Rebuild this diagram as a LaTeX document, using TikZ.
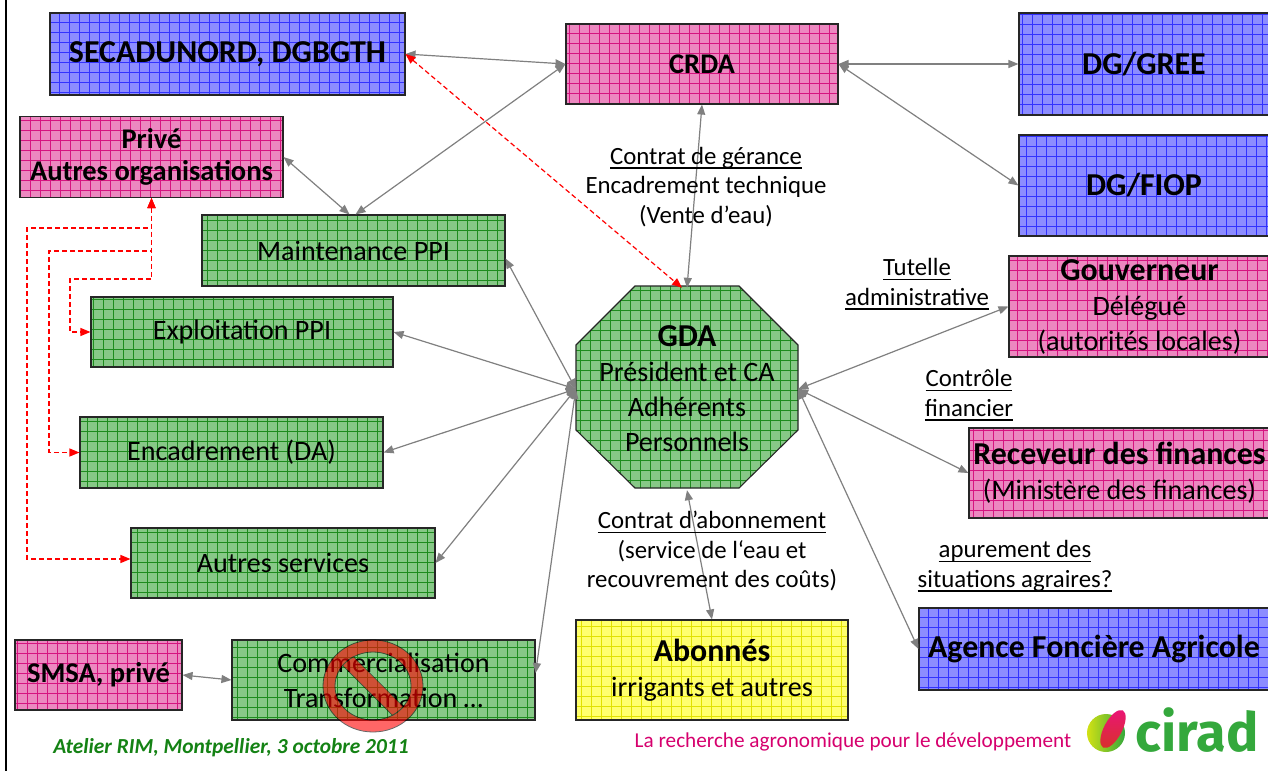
\documentclass[tikz,border=0pt]{standalone}
\usepackage{fontspec}
\setmainfont{Carlito}
\newfontfamily\ciradfont{Fira Sans}
\usetikzlibrary{arrows.meta}
\definecolor{bluefill}{RGB}{140,140,255}
\definecolor{blueline}{RGB}{50,50,255}
\definecolor{pinkfill}{RGB}{236,136,192}
\definecolor{pinkline}{RGB}{214,20,128}
\definecolor{greenfill}{RGB}{135,200,135}
\definecolor{greenline}{RGB}{30,140,30}
\definecolor{yellowfill}{RGB}{255,255,110}
\definecolor{yellowline}{RGB}{225,225,0}
\definecolor{footgreen}{RGB}{20,130,20}
\definecolor{footmag}{RGB}{214,0,110}
\definecolor{ciradgreen}{RGB}{52,168,60}
\newcommand\ulin[1]{\leavevmode\setbox0\hbox{#1}\rlap{\rule[-4.5pt]{\wd0}{1.5pt}}\box0}
\newcommand\fsA{\fontsize{28.1}{35}\selectfont}
\newcommand\fsB{\fontsize{31.9}{37}\selectfont\bfseries}
\newcommand\fsC{\fontsize{28.5}{32}\selectfont\bfseries}
\newcommand\fsL{\fontsize{24.8}{29.5}\selectfont}
\tikzset{
  gridded/.style 2 args={fill=#1, path picture={\draw[#2, line width=0.5pt] ([shift={(-10pt,-10pt)}]path picture bounding box.south west) grid[step=10pt] ([shift={(10pt,10pt)}]path picture bounding box.north east);}},
  box/.style={rectangle, draw=black!85, line width=1.1pt, inner sep=0pt, align=center, font=\fsA},
  bluebox/.style={box, gridded={bluefill}{blueline}},
  pinkbox/.style={box, gridded={pinkfill}{pinkline}},
  greenbox/.style={box, gridded={greenfill}{greenline}},
  yellowbox/.style={box, gridded={yellowfill}{yellowline}},
  octo/.style={draw=black!85, line width=1.1pt, gridded={greenfill}{greenline}},
  conn/.style={draw=gray, line width=1.2pt, >={Triangle[length=10pt,width=8pt]}, <->},
  reddash/.style={draw=red, line width=1.2pt, dash pattern=on 5pt off 3pt, >={Triangle[length=10pt,width=8pt]}, <->},
  lbl/.style={align=center, inner sep=0pt, font=\fsL}
}
\begin{document}
\begin{tikzpicture}[x=1pt,y=-1pt]
\useasboundingbox (0,0) rectangle (1268,771);
\fill[white] (0,0) rectangle (1268,771);
\draw[line width=2pt] (6,0) -- (6,771);

% octagon
\path[octo] (635,286) -- (739,286) -- (798,345) -- (798,430) -- (739,488) -- (635,488) -- (576,430) -- (576,345) -- cycle;
\node[inner sep=0pt, minimum width=222, minimum height=202, align=center, font=\fsA] (gda) at (687,389)
  {{\fsB GDA}\\Président et CA\\Adhérents\\Personnels};

% boxes
\node[bluebox, minimum width=355, minimum height=82, font=\fsB] (sec) at (227.5,54) {SECADUNORD, DGBGTH};
\node[pinkbox, minimum width=272, minimum height=80, font=\fsC] (crda) at (702,64) {CRDA};
\node[bluebox, minimum width=250, minimum height=102, font=\fsB] (gree) at (1144,64) {DG/GREE};
\node[bluebox, minimum width=250, minimum height=101, font=\fsB] (fiop) at (1144,185.5) {DG/FIOP};
\node[pinkbox, minimum width=263, minimum height=81, font=\fsC] (prive) at (151.5,157) {Privé\\Autres organisations};
\node[greenbox, minimum width=303, minimum height=71] (maint) at (353.5,250.5) {Maintenance PPI};
\node[greenbox, minimum width=302, minimum height=70] (expl) at (242,332) {Exploitation PPI};
\node[greenbox, minimum width=303, minimum height=71] (encad) at (231.5,452.5) {Encadrement (DA)};
\node[greenbox, minimum width=304, minimum height=70] (autres) at (283,563) {Autres services};
\node[pinkbox, minimum width=167, minimum height=70, font=\fsC] (smsa) at (98.5,675) {SMSA, privé};
\node[greenbox, minimum width=303, minimum height=80] (comm) at (383.5,680) {Commercialisation\\Transformation …};
\node[yellowbox, minimum width=272, minimum height=100] (abon) at (712,670) {{\fsB Abonnés}\\irrigants et autres};
\node[pinkbox, minimum width=261, minimum height=101] (gouv) at (1139.5,306.5) {{\fsB Gouverneur}\\Délégué\\(autorités locales)};
\node[pinkbox, minimum width=301, minimum height=90] (recev) at (1119.5,473) {{\fsB Receveur des finances}\\(Ministère des finances)};
\node[bluebox, minimum width=350, minimum height=82, font=\fsB] (agence) at (1094,649) {Agence Foncière Agricole};

% connectors
\draw[conn] (sec.east) -- (crda.west);
\draw[conn] (crda.east) -- (gree.west);
\draw[conn] (crda.east) -- (fiop.west);
\draw[conn] (crda.west) -- ([xshift=2pt]maint.north);
\draw[conn] (prive.east) -- ([xshift=-4pt]maint.north);
\draw[conn] (crda.south) -- (gda.north);
\draw[conn] (gda.west) -- ([yshift=-8pt]maint.east);
\draw[conn] (gda.west) -- (expl.east);
\draw[conn] (gda.west) -- (encad.east);
\draw[conn] (gda.west) -- (autres.east);
\draw[conn] (gda.west) -- ([yshift=7pt]comm.east);
\draw[conn] (gda.east) -- (gouv.west);
\draw[conn] (gda.east) -- (recev.west);
\draw[conn] (gda.east) -- (agence.west);
\draw[conn] (gda.south) -- (abon.north);
\draw[conn] (smsa.east) -- (comm.west);
\draw[reddash] (sec.east) -- ([xshift=-5pt]gda.north);

\coordinate (k1) at (27,228);
\coordinate (k2) at (49,251);
\coordinate (k3) at (70,279);
\draw[reddash] (prive.south) |- (k1) |- ([yshift=4pt]autres.west);
\draw[reddash] (prive.south) |- (k2) |- (encad.west);
\draw[reddash] (prive.south) |- (k3) |- (expl.west);

% labels
\node[lbl] (l1) at (706,187) {\ulin{Contrat de gérance}\\Encadrement technique\\(Vente d’eau)};
\node[lbl] (l2) at (917,284) {\ulin{Tutelle}\\\ulin{administrative}};
\node[lbl] (l3) at (969,395) {\ulin{Contrôle}\\\ulin{financier}};
\node[lbl] (l4) at (712,551) {\ulin{Contrat d’abonnement}\\(service de l‘eau et\\recouvrement des coûts)};
\node[lbl] (l5) at (1015,566) {\ulin{apurement des}\\\ulin{situations agraires?}};

% prohibition sign
\begin{scope}[transparency group, opacity=0.6]
  \fill[red, even odd rule] (373,686) ellipse [x radius=50, y radius=46] (373,686) ellipse [x radius=38, y radius=34];
  \begin{scope}
    \clip (373,686) ellipse [x radius=38.5, y radius=34.5];
    \draw[black, line width=14.5pt] (333,646) -- (413,726);
    \draw[red, line width=13pt] (333,646) -- (413,726);
  \end{scope}
  \draw[black, line width=0.8pt] (373,686) ellipse [x radius=50, y radius=46];
  \draw[black, line width=0.8pt] (373,686) ellipse [x radius=38, y radius=34];
\end{scope}

% footer
\node[font=\fontsize{21.4}{25}\selectfont\bfseries\itshape, text=footgreen, inner sep=0pt] (foot1) at (231,748) {Atelier RIM, Montpellier, 3 octobre 2011};
\node[font=\fontsize{21.2}{25}\selectfont, text=footmag, inner sep=0pt] (foot2) at (853,742) {La recherche agronomique pour le développement};
\shade[left color={rgb,255:red,210;green,225;blue,20}, right color=ciradgreen] (1106,733) circle (19);
\shade[top color={rgb,255:red,235;green,20;blue,120}, bottom color={rgb,255:red,215;green,50;blue,40}, rotate around={62:(1113,729)}] (1113,729) ellipse [x radius=21, y radius=9];
\node[font=\ciradfont\bfseries\fontsize{54}{54}\selectfont, text=ciradgreen, inner sep=0pt] (cirad) at (1197,730) {cirad};
\end{tikzpicture}
\end{document}
